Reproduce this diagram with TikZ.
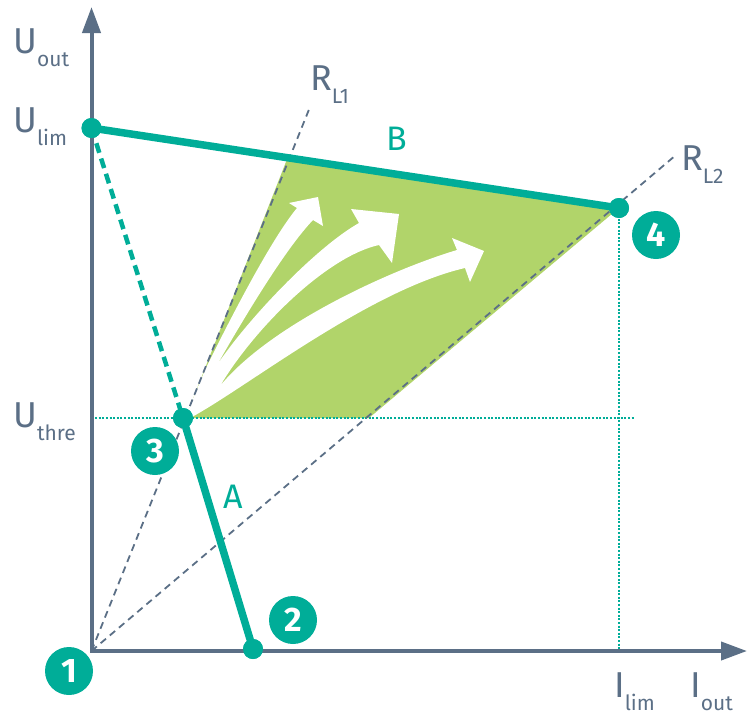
\documentclass[tikz,border=0pt]{standalone}
\usepackage{fontspec}
\setmainfont{Fira Sans}
\usetikzlibrary{arrows.meta}
\definecolor{teal1}{HTML}{00AD98}
\definecolor{leaf}{HTML}{B1D46A}
\definecolor{slate}{HTML}{5B6F86}
\newcommand\lowtxt[1]{\raisebox{-13pt}{\fontsize{21}{21}\selectfont #1}}
\begin{document}
\begin{tikzpicture}[x=1pt,y=-1pt,
  axisln/.style={draw=slate,line width=4pt,miter limit=10,{Triangle[length=26pt,width=18pt]}-{Triangle[length=26pt,width=18pt]}},
  rline/.style={draw=slate,line width=1.8pt,dash pattern=on 7pt off 5pt},
  dotln/.style={draw=teal1,line width=2pt,dash pattern=on 2pt off 1.6pt},
  thick1/.style={draw=teal1,line width=7.5pt},
  tdash/.style={draw=teal1,line width=4.5pt,dash pattern=on 10pt off 6pt},
  dotpt/.style={circle,fill=teal1,minimum size=20pt,inner sep=0pt},
  numc/.style={circle,fill=teal1,minimum size=48pt,inner sep=0pt,text=white,font=\bfseries\fontsize{34}{34}\selectfont},
  lab/.style={inner sep=0pt,anchor=base west,text=slate,font=\fontsize{36}{36}\selectfont},
  tlab/.style={inner sep=0pt,anchor=base west,text=teal1,font=\fontsize{34}{34}\selectfont}]
\useasboundingbox (0,0) rectangle (747,715);
% key coordinates
\coordinate (O) at (91.5,651);
\coordinate (xend) at (747,651);
\coordinate (yend) at (91.5,7);
\coordinate (rl1) at (310,107);
\coordinate (rl2) at (676,155);
\coordinate (hl) at (635,418);
\coordinate (hl0) at (91.5,418);
\coordinate (vl) at (619,651);
% green region
\fill[leaf] (185.5,418) -- (287.5,158) -- (619,208) -- (369,418) -- cycle;
% white arrows
\fill[white] (205,370) .. controls (230.5,318) and (271.4,238.8) .. (297,208) -- (289,203) -- (318,197) -- (323,226) -- (313,220)
  .. controls (285.4,248.8) and (244.5,317) .. (217,365)
  .. controls (250,316) and (318,246) .. (359,223) -- (351,209) -- (399,214) -- (392,263) -- (379,245)
  .. controls (328,256) and (256,326) .. (220,386)
  .. controls (270,325) and (390,270) .. (457,250) -- (452,238) -- (484,251) -- (470,282) -- (465,268)
  .. controls (370,290) and (250,385) .. (192,417) -- (185,418) -- cycle;
% points
\node[dotpt] (ulim) at (91.5,128) {};
\node[dotpt] (p3) at (183,418) {};
\node[dotpt] (p2) at (253,649) {};
\node[dotpt] (p4) at (619,208) {};
% dotted guides
\draw[dotln] (hl0) -- (hl);
\draw[dotln] (p4.center) -- (vl);
% load lines
\draw[rline] (O) -- (rl1);
\draw[rline] (O) -- (rl2);
% characteristic
\draw[tdash] (ulim.center) -- (p3.center);
\draw[thick1] (ulim.center) -- (p4.center);
\draw[thick1] (p3.center) -- (p2.center);
% axes
\draw[axisln] (xend) -- (O) -- (yend);
% redraw points on top
\node[dotpt] at (ulim) {};
\node[dotpt] at (p3) {};
\node[dotpt] at (p2) {};
\node[dotpt] at (p4) {};
% numbered markers
\node[numc] (n1) at (69,671) {1};
\node[numc] (n2) at (293,620) {2};
\node[numc] (n3) at (155,451) {3};
\node[numc] (n4) at (656,235) {4};
% labels
\node[lab] (uout) at (13,53) {U\lowtxt{out}};
\node[lab] (ulimt) at (13,132) {U\lowtxt{lim}};
\node[lab] (uthre) at (13,427) {U\lowtxt{thre}};
\node[lab] (ilim) at (614,697) {I\lowtxt{lim}};
\node[lab] (iout) at (690,697) {I\lowtxt{out}};
\node[lab] (rl1t) at (310,90) {R\lowtxt{L1}};
\node[lab] (rl2t) at (681,170) {R\lowtxt{L2}};
\node[tlab] (bt) at (386,150) {B};
\node[tlab] (at) at (223,508) {A};
\end{tikzpicture}
\end{document}
